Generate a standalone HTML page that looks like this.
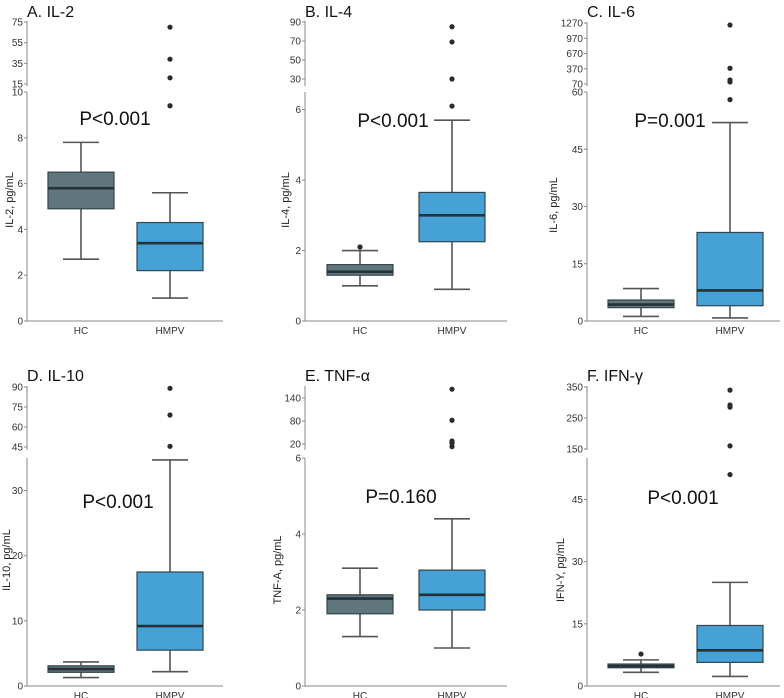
<!DOCTYPE html>
<html><head><meta charset="utf-8">
<style>
html,body{margin:0;padding:0;background:#fff;}
svg{display:block;font-family:"Liberation Sans",sans-serif;}
</style></head>
<body>
<svg id="chart" width="784" height="698" viewBox="0 0 784 698" xmlns="http://www.w3.org/2000/svg"></svg>
<script>
// ---- data (whiskerLow, q1, median, q3, whiskerHigh) ----
const groups = ["HC","HMPV"];
const il2HC = [2.7,4.9,5.8,6.5,7.8];
const il2HMPV = [1.0,2.2,3.4,4.3,5.6];
const il2HCOut = [];
const il2HMPVOut = [9.4,21,39,70];
const il2LowerTicks = [0,2,4,6,8,10];
const il2UpperTicks = [15,35,55,75];

const il4HC = [1.0,1.3,1.4,1.6,2.0];
const il4HMPV = [0.9,2.25,3.0,3.65,5.7];
const il4HCOut = [2.1];
const il4HMPVOut = [6.1,30,69,85];
const il4LowerTicks = [0,2,4,6];
const il4UpperTicks = [30,50,70,90];

const il6HC = [1.2,3.5,4.3,5.5,8.5];
const il6HMPV = [0.8,4.0,8.0,23.2,52];
const il6HCOut = [];
const il6HMPVOut = [58,110,130,150,380,1230];
const il6LowerTicks = [0,15,30,45,60];
const il6UpperTicks = [70,370,670,970,1270];

const il10HC = [1.3,2.1,2.6,3.1,3.7];
const il10HMPV = [2.2,5.5,9.2,17.5,34.7];
const il10HCOut = [];
const il10HMPVOut = [45.5,69,89];
const il10LowerTicks = [0,10,20,30];
const il10UpperTicks = [45,60,75,90];

const tnfHC = [1.3,1.9,2.3,2.4,3.1];
const tnfHMPV = [1.0,2.0,2.4,3.05,4.4];
const tnfHCOut = [];
const tnfHMPVOut = [13,22,25,28,82,163];
const tnfLowerTicks = [0,2,4,6];
const tnfUpperTicks = [20,80,140];

const ifnHC = [3.3,4.4,4.8,5.3,6.3];
const ifnHMPV = [2.3,5.7,8.6,14.6,25];
const ifnHCOut = [7.7];
const ifnHMPVOut = [51,160,285,292,340];
const ifnLowerTicks = [0,15,30,45];
const ifnUpperTicks = [150,250,350];

const panels = [
 {key:"il-2",title:"A. IL-2",ylab:"IL-2, pg/mL",p:"P<0.001",hc:il2HC,hm:il2HMPV,hcO:il2HCOut,hmO:il2HMPVOut,lt:il2LowerTicks,ut:il2UpperTicks,lowMax:10,
  L:{ax:27,xend:223,cx:[81,170],y0:321,ytop:92,uy:[84,22],ul:[21,86],ylx:9,yly:200,px:115,py:125,tx:27,ty:17}},
 {key:"il-4",title:"B. IL-4",ylab:"IL-4, pg/mL",p:"P<0.001",hc:il4HC,hm:il4HMPV,hcO:il4HCOut,hmO:il4HMPVOut,lt:il4LowerTicks,ut:il4UpperTicks,lowMax:6.5,
  L:{ax:305,xend:507,cx:[360,452],y0:321,ytop:92,uy:[79,22],ul:[21,86],ylx:285,yly:200,px:393,py:127,tx:305,ty:17}},
 {key:"il-6",title:"C. IL-6",ylab:"IL-6, pg/mL",p:"P=0.001",hc:il6HC,hm:il6HMPV,hcO:il6HCOut,hmO:il6HMPVOut,lt:il6LowerTicks,ut:il6UpperTicks,lowMax:60,
  L:{ax:587,xend:780,cx:[641,730],y0:321,ytop:92,uy:[84,23],ul:[22,86],ylx:553,yly:205,px:670,py:127,tx:587,ty:17}},
 {key:"il-10",title:"D. IL-10",ylab:"IL-10, pg/mL",p:"P<0.001",hc:il10HC,hm:il10HMPV,hcO:il10HCOut,hmO:il10HMPVOut,lt:il10LowerTicks,ut:il10UpperTicks,lowMax:35,
  L:{ax:27,xend:223,cx:[81,170],y0:686,ytop:458,uy:[447,387],ul:[386,450],ylx:6,yly:560,px:118,py:508,tx:27,ty:381}},
 {key:"tnf-a",title:"E. TNF-α",ylab:"TNF-A, pg/mL",p:"P=0.160",hc:tnfHC,hm:tnfHMPV,hcO:tnfHCOut,hmO:tnfHMPVOut,lt:tnfLowerTicks,ut:tnfUpperTicks,lowMax:6,
  L:{ax:305,xend:507,cx:[360,452],y0:686,ytop:458,uy:[444,398],ul:[386,450],ylx:277,yly:570,px:401,py:503,tx:305,ty:381}},
 {key:"ifn-g",title:"F. IFN-γ",ylab:"IFN-Y, pg/mL",p:"P<0.001",hc:ifnHC,hm:ifnHMPV,hcO:ifnHCOut,hmO:ifnHMPVOut,lt:ifnLowerTicks,ut:ifnUpperTicks,lowMax:55,
  L:{ax:587,xend:780,cx:[641,730],y0:686,ytop:458,uy:[449,387],ul:[386,450],ylx:560,yly:570,px:683,py:504,tx:587,ty:381}}
];

const svg = document.getElementById('chart');
const NS = "http://www.w3.org/2000/svg";
function mk(tag, attrs, parent){
  const e = document.createElementNS(NS, tag);
  for (const k in attrs) e.setAttribute(k, attrs[k]);
  parent.appendChild(e);
  return e;
}
const fills = ["#5f777d","#46a1d7"];
const strokes = ["#34454b","#34454b"];

panels.forEach(P=>{
  const L = P.L;
  const g = mk('g',{},svg);
  
  
  const yLow = v => L.y0 - v/P.lowMax*(L.y0-L.ytop);
  const u0 = P.ut[0], u1 = P.ut[P.ut.length-1];
  const yUp = v => L.uy[0] + (v-u0)/(u1-u0)*(L.uy[1]-L.uy[0]);
  const yv = v => v <= P.lowMax ? yLow(v) : yUp(v);

  const t = mk('text',{x:L.tx,y:L.ty,'font-size':16,fill:'#111'},g);
  t.textContent = P.title;
  
  

  // axes
  const al = mk('line',{x1:L.ax,y1:L.ytop,x2:L.ax,y2:L.y0,stroke:'#888','stroke-width':1},g);
  
  
  const au = mk('line',{x1:L.ax,y1:L.ul[0],x2:L.ax,y2:L.ul[1],stroke:'#888','stroke-width':1},g);
  
  
  const xl = mk('line',{x1:L.ax,y1:L.y0,x2:L.xend,y2:L.y0,stroke:'#888','stroke-width':1},g);
  
  

  const ticks = [];
  P.lt.forEach(v=>ticks.push([v,yLow(v)]));
  P.ut.forEach(v=>ticks.push([v,yUp(v)]));
  ticks.forEach(([v,y])=>{
    mk('line',{x1:L.ax-3,y1:y,x2:L.ax,y2:y,stroke:'#888'},g);
    const tt = mk('text',{x:L.ax-4,y:y+3.5,'font-size':10,'text-anchor':'end',fill:'#333'},g);
    tt.textContent = v;
    
    
  });

  const yl = mk('text',{x:0,y:0,'font-size':11,'text-anchor':'middle',fill:'#222',transform:`translate(${L.ylx+4},${L.yly}) rotate(-90)`},g);
  yl.textContent = P.ylab;
  
  

  const sets = [[P.hc,P.hcO],[P.hm,P.hmO]];
  sets.forEach(([s,outs],i)=>{
    const cx = L.cx[i];
    const hw = 33, cw = 18;
    const bg = mk('g',{},g);
    
    
    mk('line',{x1:cx,y1:yv(s[0]),x2:cx,y2:yv(s[1]),stroke:'#555','stroke-width':1.6},bg);
    mk('line',{x1:cx,y1:yv(s[3]),x2:cx,y2:yv(s[4]),stroke:'#555','stroke-width':1.6},bg);
    mk('line',{x1:cx-cw,y1:yv(s[0]),x2:cx+cw,y2:yv(s[0]),stroke:'#555','stroke-width':1.6},bg);
    mk('line',{x1:cx-cw,y1:yv(s[4]),x2:cx+cw,y2:yv(s[4]),stroke:'#555','stroke-width':1.6},bg);
    mk('rect',{x:cx-hw,y:yv(s[3]),width:2*hw,height:yv(s[1])-yv(s[3]),fill:fills[i],stroke:strokes[i],'stroke-width':1.2},bg);
    mk('line',{x1:cx-hw,y1:yv(s[2]),x2:cx+hw,y2:yv(s[2]),stroke:'#263238','stroke-width':2.6},bg);
    outs.forEach(o=>{
      const c = mk('circle',{cx:cx,cy:yv(o),r:2.6,fill:'#2b2b2b'},g);
      
      
    });
    const xt = mk('text',{x:cx,y:L.y0+13,'font-size':10,'text-anchor':'middle',fill:'#333'},g);
    xt.textContent = groups[i];
    
    
  });

  const pt = mk('text',{x:L.px,y:L.py,'font-size':19,'text-anchor':'middle',fill:'#111'},g);
  pt.textContent = P.p;
  
  
});
</script>
</body></html>
